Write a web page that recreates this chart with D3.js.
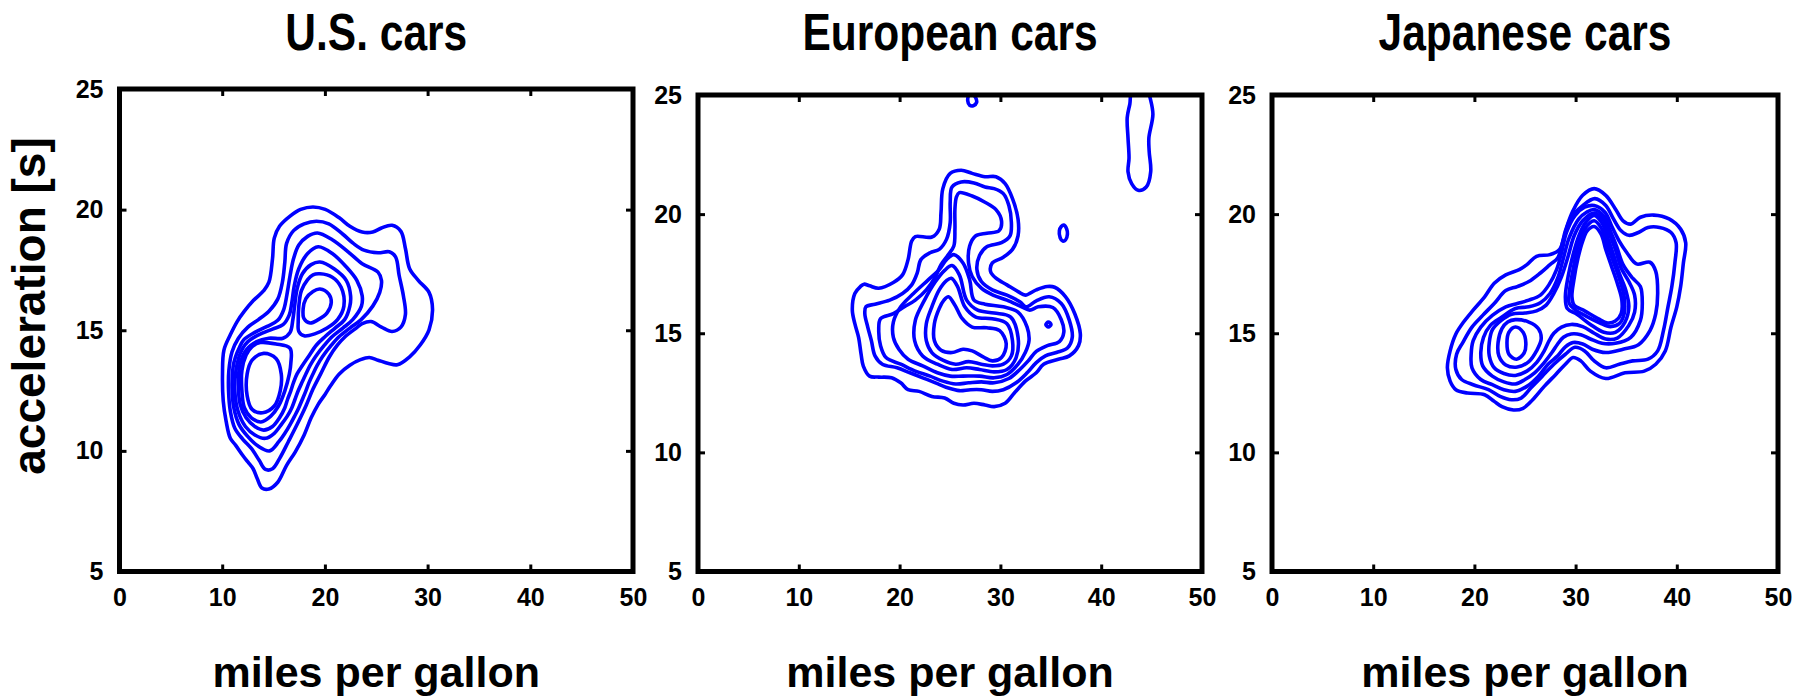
<!DOCTYPE html>
<html>
<head>
<meta charset="utf-8">
<script src="https://cdn.jsdelivr.net/npm/d3@7"></script>
<style>
  body { margin: 0; background: #fff; }
  text { font-family: "Liberation Sans", Arial, sans-serif; font-weight: bold; fill: #000; }
</style>
</head>
<body>
<div id="chart"></div>
<script>
/* DATA */
const titles = ["U.S. cars", "European cars", "Japanese cars"];
const xTicks = [0, 10, 20, 30, 40, 50];
const yTicks = [5, 10, 15, 20, 25];

// contour rings as [mpg, acceleration] points, outermost first
const usRings = [
  [[18.84,20.11],[20.03,20.01],[21.40,19.66],[22.43,19.31],[23.63,19.07],[24.66,19.07],[25.51,19.24],[26.54,19.35],[27.40,19.10],[27.84,18.39],[28.25,17.55],[29.11,17.06],[30.14,16.57],[30.48,15.86],[30.14,15.02],[29.28,14.39],[28.25,13.90],[27.05,13.57],[26.20,13.62],[25.17,13.76],[24.32,13.87],[23.46,13.78],[22.43,13.55],[21.40,13.19],[20.55,12.70],[20.03,12.35],[19.35,11.93],[18.66,11.37],[17.98,10.66],[17.12,9.96],[16.27,9.40],[15.41,8.70],[14.55,8.42],[13.87,8.46],[13.42,8.84],[13.01,9.26],[12.50,9.54],[11.99,9.82],[11.30,10.24],[10.79,10.52],[10.38,11.23],[10.10,12.07],[10.03,13.19],[10.17,14.18],[10.79,14.81],[11.47,15.37],[12.16,15.79],[13.01,16.22],[14.04,16.64],[14.55,16.99],[14.90,17.97],[15.07,18.82],[15.58,19.31],[16.61,19.73],[17.64,20.01]],
  [[19.18,19.52],[20.38,19.41],[21.75,18.98],[22.77,18.60],[23.80,18.32],[25.17,18.21],[26.27,18.25],[26.88,18.04],[27.23,17.27],[27.64,16.43],[27.84,15.65],[27.40,15.13],[26.54,14.95],[25.51,15.13],[24.49,15.36],[23.63,15.27],[23.05,15.09],[21.99,14.74],[21.23,14.39],[20.44,13.90],[19.59,13.19],[18.84,12.56],[18.15,11.86],[17.29,11.09],[16.44,10.38],[15.58,9.68],[14.90,9.26],[14.21,9.23],[13.60,9.61],[12.84,10.10],[11.99,10.49],[11.23,10.94],[10.79,11.65],[10.62,12.49],[10.65,13.33],[10.96,14.11],[11.58,14.67],[12.50,15.13],[13.53,15.44],[14.55,15.79],[15.41,16.29],[15.86,16.99],[16.10,17.83],[16.27,18.60],[16.95,19.13],[17.98,19.41]],
  [[19.28,19.03],[20.72,18.75],[22.26,18.25],[23.63,17.76],[25.17,17.41],[25.51,17.06],[25.34,16.57],[24.66,16.00],[23.53,15.44],[22.43,15.09],[21.40,14.74],[20.65,14.39],[19.76,13.90],[19.25,13.54],[18.84,13.19],[18.46,12.84],[18.15,12.49],[17.81,12.14],[17.46,11.79],[17.05,11.44],[16.61,11.09],[16.10,10.73],[15.51,10.38],[14.62,10.00],[13.46,10.21],[12.50,10.59],[11.64,11.09],[11.13,11.79],[10.96,12.63],[11.06,13.48],[11.30,13.90],[11.64,14.25],[12.09,14.60],[13.18,14.91],[14.38,15.16],[15.41,15.41],[15.99,15.86],[16.34,16.57],[16.61,17.27],[16.95,17.97],[17.46,18.53],[18.32,18.89]],
  [[19.35,18.46],[20.72,18.18],[22.09,17.62],[23.12,17.06],[23.63,16.43],[23.56,16.00],[22.71,15.44],[21.75,15.09],[20.72,14.74],[19.97,14.39],[19.08,13.90],[18.56,13.54],[18.15,13.19],[17.77,12.84],[17.40,12.49],[17.09,12.14],[16.78,11.79],[16.34,11.44],[15.75,11.09],[15.07,10.73],[14.21,10.52],[13.18,10.66],[12.26,11.01],[11.54,11.65],[11.23,12.49],[11.34,13.33],[11.64,13.90],[11.99,14.25],[12.50,14.53],[13.53,14.81],[14.90,15.05],[15.92,15.23],[16.54,15.65],[16.78,16.15],[17.02,16.85],[17.46,17.55],[18.32,18.18]],
  [[19.52,17.83],[20.89,17.55],[22.09,17.06],[22.50,16.43],[22.43,16.00],[21.92,15.44],[20.99,15.09],[20.03,14.74],[19.18,14.39],[18.39,13.90],[17.81,13.54],[17.29,13.19],[16.95,12.84],[16.68,12.49],[16.37,12.14],[16.10,11.79],[15.58,11.37],[14.90,11.01],[14.04,10.86],[13.18,11.01],[12.33,11.37],[11.75,11.93],[11.58,12.77],[11.75,13.62],[12.33,14.18],[13.36,14.53],[14.55,14.67],[15.92,14.67],[16.61,14.91],[16.88,15.44],[17.05,16.00],[17.29,16.71],[17.81,17.34],[18.66,17.72]],
  [[19.52,17.34],[20.72,17.20],[21.58,16.78],[21.85,16.00],[21.23,15.44],[20.21,15.09],[19.01,14.85],[17.98,14.77],[17.46,14.95],[17.40,15.37],[17.46,16.00],[17.71,16.64],[18.32,17.10],[18.84,17.30]],
  [[13.70,14.49],[15.24,14.43],[16.61,14.25],[16.68,13.62],[16.54,13.19],[16.10,12.49],[15.48,11.86],[14.73,11.44],[13.77,11.20],[12.84,11.37],[12.16,11.79],[11.92,12.49],[11.92,13.33],[12.33,13.97],[12.91,14.32]],
  [[19.52,16.71],[20.38,16.50],[20.62,16.15],[20.21,15.72],[19.35,15.44],[18.56,15.30],[17.98,15.47],[17.88,15.89],[18.15,16.31],[18.84,16.61]],
  [[14.04,14.04],[15.24,13.83],[15.75,13.19],[15.65,12.49],[15.07,11.86],[13.94,11.58],[12.91,11.72],[12.43,12.28],[12.43,13.19],[12.91,13.76]]
];

const euRings = [
  [[16.47,17.06],[17.02,16.99],[17.93,16.89],[19.38,17.13],[20.29,17.45],[20.84,18.09],[21.20,18.87],[21.56,19.06],[23.20,19.04],[23.93,19.37],[24.11,20.08],[24.29,21.07],[25.02,21.71],[26.11,21.84],[27.20,21.71],[28.47,21.57],[29.56,21.57],[30.47,21.28],[31.20,20.65],[31.75,19.79],[31.75,19.09],[31.20,18.52],[30.29,18.19],[29.20,17.95],[29.02,17.60],[29.56,17.31],[30.65,17.03],[31.75,16.75],[32.47,16.60],[33.56,16.82],[34.65,16.96],[35.38,16.93],[36.47,16.53],[37.38,15.82],[37.93,14.97],[37.75,14.48],[36.84,14.05],[35.75,13.91],[34.29,13.70],[33.56,13.34],[32.47,12.99],[31.38,12.49],[30.47,12.06],[29.38,11.92],[28.47,11.99],[27.38,12.06],[26.29,11.99],[25.38,12.06],[24.47,12.28],[23.20,12.35],[21.93,12.56],[20.84,12.63],[20.11,12.92],[19.20,13.13],[17.93,13.16],[17.02,13.20],[16.40,13.62],[16.18,14.12],[15.93,14.83],[15.56,15.40],[15.31,15.97],[15.56,16.67],[16.11,16.96]],
  [[16.66,16.11],[17.56,16.22],[19.02,16.39],[20.29,16.67],[21.20,17.03],[21.75,17.53],[22.11,18.09],[23.02,18.38],[23.93,18.52],[24.65,18.94],[25.02,19.65],[25.02,20.50],[25.20,21.14],[26.11,21.35],[27.38,21.31],[28.47,21.14],[29.38,21.07],[30.29,20.86],[30.84,20.36],[31.09,19.65],[30.95,19.09],[30.11,18.80],[28.65,18.63],[27.93,18.26],[27.67,17.67],[28.11,17.17],[29.20,16.82],[30.65,16.60],[31.93,16.32],[32.54,16.11],[33.56,16.36],[34.84,16.53],[36.04,16.25],[36.84,15.54],[37.13,14.83],[36.65,14.38],[35.56,14.19],[34.47,14.05],[33.56,13.77],[32.65,13.34],[31.56,12.92],[30.29,12.63],[29.20,12.56],[28.11,12.63],[27.02,12.63],[25.93,12.59],[24.84,12.70],[23.56,12.92],[22.29,13.13],[21.02,13.34],[19.75,13.55],[18.29,13.70],[17.56,14.05],[17.20,14.69],[16.84,15.26],[16.55,15.82]],
  [[25.93,20.90],[27.20,20.76],[28.47,20.50],[29.56,20.19],[30.11,19.72],[29.86,19.30],[28.65,19.20],[27.56,19.09],[26.95,18.66],[26.84,17.95],[27.20,17.38],[28.11,16.89],[29.27,16.60],[30.65,16.39],[32.11,16.11],[32.91,15.97],[33.75,16.11],[35.20,16.08],[36.04,15.57],[36.29,15.04],[35.85,14.65],[34.65,14.48],[33.56,14.24],[32.76,13.84],[31.93,13.48],[30.84,13.10],[29.38,12.92],[28.11,12.96],[26.84,12.92],[25.56,12.87],[24.29,12.99],[23.02,13.20],[21.56,13.41],[20.11,13.70],[18.65,13.98],[18.11,14.48],[17.93,15.11],[18.11,15.61],[19.38,15.82],[20.47,16.11],[21.56,16.39],[22.65,16.82],[23.56,17.38],[24.11,17.88],[24.84,18.30],[25.38,18.66],[25.49,19.37],[25.49,20.22],[25.64,20.72]],
  [[25.38,18.30],[26.29,17.95],[26.95,17.24],[27.38,16.39],[28.47,16.22],[30.29,16.11],[31.75,15.89],[32.65,15.26],[32.84,14.69],[32.47,14.19],[31.75,13.70],[30.65,13.27],[29.38,13.13],[27.93,13.20],[26.29,13.20],[25.02,13.20],[23.75,13.34],[22.29,13.63],[20.84,13.91],[19.93,14.33],[19.38,14.83],[19.38,15.47],[20.11,16.11],[21.38,16.67],[22.84,17.24],[23.93,17.67],[24.65,18.09]],
  [[25.20,17.84],[25.93,17.45],[26.65,16.39],[27.75,15.97],[29.38,15.85],[31.02,15.68],[31.75,14.83],[31.56,13.98],[30.65,13.48],[29.38,13.38],[27.93,13.48],[26.65,13.55],[25.20,13.48],[23.75,13.70],[22.29,14.05],[21.49,14.69],[21.56,15.54],[22.47,16.39],[23.56,17.17],[24.47,17.64]],
  [[25.13,17.31],[25.75,16.96],[26.47,16.11],[27.56,15.68],[29.20,15.61],[30.65,15.40],[31.20,14.69],[31.09,14.05],[30.29,13.70],[29.20,13.63],[28.11,13.70],[26.84,13.81],[25.56,13.70],[24.29,13.87],[23.20,14.19],[22.65,14.69],[22.65,15.40],[23.20,16.11],[23.93,16.82],[24.65,17.21]],
  [[24.84,16.53],[25.49,16.18],[26.22,15.61],[27.20,15.26],[28.65,15.23],[29.93,15.11],[30.58,14.55],[30.11,13.98],[29.20,13.84],[28.29,14.01],[27.20,14.26],[26.29,14.33],[25.20,14.19],[24.11,14.29],[23.45,14.69],[23.45,15.40],[23.93,16.04],[24.40,16.39]],
  [[34.76,15.47],[35.02,15.37],[34.76,15.26],[34.51,15.37]],
  [[36.29,19.54],[36.58,19.37],[36.65,19.16],[36.47,18.92],[36.18,18.87],[35.93,19.01],[35.85,19.30],[36.04,19.48]],
  [[27.20,25.05],[27.56,24.87],[27.64,24.69],[27.31,24.55],[26.95,24.57],[26.76,24.76],[26.87,24.98]],
  [[43.09,25.18],[42.84,24.62],[42.58,24.05],[42.66,23.20],[42.76,22.35],[42.66,21.78],[43.02,21.28],[43.67,21.00],[44.47,21.14],[44.91,21.78],[44.76,22.63],[44.73,23.20],[45.13,24.19],[44.84,24.90],[44.65,25.18]]
];

const jpRings = [
  [[31.84,21.07],[32.98,20.79],[33.93,20.22],[34.69,19.72],[35.45,19.58],[36.40,19.87],[37.73,19.96],[39.24,19.80],[40.38,19.37],[40.88,18.80],[40.65,17.95],[40.38,16.96],[40.00,16.11],[39.43,15.26],[38.86,14.26],[37.92,13.70],[36.78,13.41],[34.88,13.34],[32.98,13.10],[31.46,13.41],[30.51,13.84],[29.75,13.98],[28.99,13.70],[28.04,13.27],[26.90,12.77],[25.76,12.21],[24.81,11.85],[23.86,11.78],[22.72,11.92],[21.96,12.14],[21.01,12.42],[19.31,12.49],[18.17,12.63],[17.60,12.99],[17.33,13.55],[17.60,14.26],[18.17,14.97],[18.93,15.47],[19.88,15.97],[21.01,16.53],[21.96,17.10],[23.10,17.45],[24.43,17.67],[25.19,17.88],[26.14,18.23],[27.47,18.30],[28.42,18.52],[28.99,19.30],[29.75,20.15],[30.70,20.79]],
  [[31.91,20.65],[32.98,20.36],[33.74,19.80],[34.50,19.30],[35.26,19.11],[36.21,19.23],[37.15,19.44],[38.30,19.44],[39.43,19.23],[39.93,18.80],[39.81,17.95],[39.51,16.96],[39.13,16.11],[38.68,15.11],[38.11,14.26],[37.15,13.91],[35.64,13.84],[34.31,13.70],[32.98,13.55],[31.84,13.84],[30.89,14.26],[29.94,14.41],[28.99,14.12],[27.85,13.70],[26.71,13.20],[25.57,12.70],[24.62,12.28],[23.67,12.21],[22.53,12.35],[21.39,12.63],[19.88,12.84],[18.74,13.06],[18.17,13.48],[18.24,14.12],[18.85,14.61],[19.76,15.26],[20.82,15.75],[21.96,16.25],[23.10,16.79],[24.24,16.96],[25.38,17.17],[26.52,17.53],[27.47,17.88],[28.23,18.16],[28.80,18.94],[29.48,19.80],[30.70,20.36]],
  [[31.84,20.36],[32.90,20.08],[33.55,19.51],[34.31,18.87],[35.07,18.38],[36.02,17.91],[37.35,17.98],[37.92,17.60],[38.11,16.67],[37.92,15.82],[37.35,15.11],[36.21,14.52],[34.69,14.33],[32.98,14.19],[31.65,14.33],[30.70,14.55],[29.75,14.61],[28.99,14.43],[28.23,14.05],[27.28,13.70],[26.33,13.20],[25.19,12.77],[24.05,12.56],[22.91,12.63],[21.77,12.84],[20.63,13.06],[19.76,13.55],[19.68,14.12],[19.88,14.69],[20.63,15.26],[21.77,15.75],[23.10,16.11],[24.24,16.25],[25.38,16.39],[26.52,16.60],[27.36,17.03],[28.12,17.67],[28.61,18.38],[29.10,19.23],[29.94,19.94],[30.89,20.29]],
  [[31.84,20.19],[32.79,19.91],[33.36,19.37],[34.04,18.66],[34.69,17.88],[35.64,17.31],[36.40,16.96],[36.59,16.25],[36.40,15.54],[35.45,14.83],[33.93,14.58],[32.60,14.58],[31.46,14.76],[30.51,14.94],[29.56,14.97],[28.80,14.83],[28.23,14.55],[27.66,14.19],[26.90,13.77],[25.95,13.34],[25.00,13.06],[24.05,12.87],[22.91,12.96],[21.77,13.20],[20.82,13.63],[20.63,14.19],[20.90,14.83],[21.58,15.33],[22.72,15.68],[24.05,16.04],[25.38,16.11],[26.52,16.28],[27.47,16.67],[28.23,17.31],[28.80,18.16],[29.37,19.01],[30.32,19.80],[31.08,20.08]],
  [[31.84,20.05],[32.79,19.72],[33.28,19.23],[33.93,18.52],[34.50,17.74],[35.26,17.17],[35.83,16.60],[35.83,15.89],[35.26,15.33],[34.12,14.80],[32.98,14.76],[31.84,15.00],[30.70,15.28],[29.56,15.37],[28.61,15.26],[27.85,15.00],[27.39,14.69],[26.90,14.26],[26.14,13.77],[25.19,13.41],[24.05,13.23],[22.91,13.31],[21.96,13.55],[21.47,14.05],[21.47,14.61],[21.77,15.14],[22.65,15.54],[23.67,15.80],[25.00,15.85],[26.14,15.94],[27.09,16.18],[27.85,16.67],[28.61,17.38],[29.26,18.23],[29.86,19.09],[30.70,19.72]],
  [[31.84,19.94],[32.67,19.58],[33.17,19.01],[33.74,18.30],[34.31,17.53],[34.95,16.82],[35.26,16.11],[34.88,15.47],[33.93,15.04],[32.79,15.04],[31.46,15.37],[30.13,15.80],[29.18,16.04],[28.99,16.53],[29.26,17.38],[29.75,18.30],[30.32,19.09],[31.00,19.65]],
  [[24.05,15.57],[25.38,15.47],[26.33,15.19],[26.60,14.76],[26.14,14.26],[25.38,13.81],[24.24,13.58],[23.10,13.67],[22.42,14.05],[22.34,14.61],[22.72,15.19],[23.29,15.47]],
  [[31.84,19.72],[32.60,19.37],[33.05,18.80],[33.66,18.09],[34.31,17.31],[34.80,16.53],[34.80,15.82],[34.31,15.40],[33.43,15.28],[32.41,15.43],[31.08,15.71],[29.94,15.99],[29.37,16.25],[29.41,16.82],[29.75,17.67],[30.24,18.66],[30.89,19.37]],
  [[24.05,15.26],[24.81,15.04],[25.08,14.61],[24.93,14.19],[24.17,13.91],[23.41,14.12],[23.22,14.61],[23.41,15.04]],
  [[31.84,19.48],[32.52,19.16],[32.98,18.52],[33.55,17.81],[34.12,17.10],[34.57,16.39],[34.50,15.82],[33.93,15.51],[33.17,15.43],[32.22,15.61],[30.89,15.94],[29.86,16.18],[29.64,16.53],[29.83,17.24],[30.24,18.16],[30.70,18.87],[31.15,19.30]]
];

/* LAYOUT */
const width = 1811, height = 698;
const panels = [
  { title: titles[0], rings: usRings, left: 119.5, right: 633, top: 89, bottom: 571.5 },
  { title: titles[1], rings: euRings, left: 698, right: 1202, top: 95, bottom: 571.5 },
  { title: titles[2], rings: jpRings, left: 1272, right: 1778, top: 95, bottom: 571.5 }
];

const svg = d3.select("#chart")
  .append("svg")
  .attr("width", width)
  .attr("height", height);

panels.forEach((p, i) => {
  const x = d3.scaleLinear().domain([0, 50]).range([p.left, p.right]);
  const y = d3.scaleLinear().domain([5, 25]).range([p.bottom, p.top]);
  const cx = (p.left + p.right) / 2;

  svg.append("clipPath")
    .attr("id", "clip" + i)
    .append("rect")
    .attr("x", p.left).attr("y", p.top)
    .attr("width", p.right - p.left).attr("height", p.bottom - p.top);

  const line = d3.line()
    .x(d => x(d[0]))
    .y(d => y(d[1]))
    .curve(d3.curveCatmullRomClosed.alpha(0.5));

  svg.append("g")
    .attr("clip-path", `url(#clip${i})`)
    .selectAll("path")
    .data(p.rings)
    .join("path")
    .attr("d", line)
    .attr("fill", "none")
    .attr("stroke", "#0000ff")
    .attr("stroke-width", 3.6)
    .attr("stroke-linejoin", "round");

  // axes: inward ticks on all four sides
  const axes = [
    { axis: d3.axisBottom(x).tickValues(xTicks).tickPadding(17), t: `translate(0,${p.bottom})` },
    { axis: d3.axisLeft(y).tickValues(yTicks).tickPadding(16), t: `translate(${p.left},0)` },
    { axis: d3.axisTop(x).tickValues(xTicks).tickFormat(""), t: `translate(0,${p.top})` },
    { axis: d3.axisRight(y).tickValues(yTicks).tickFormat(""), t: `translate(${p.right},0)` }
  ];
  axes.forEach(a => {
    const g = svg.append("g")
      .attr("transform", a.t)
      .call(a.axis.tickSizeInner(-7).tickSizeOuter(0));
    g.select(".domain").remove();
    g.selectAll("line").attr("stroke", "#000").attr("stroke-width", 3);
    g.selectAll("text")
      .attr("font-family", "Liberation Sans, Arial, sans-serif")
      .attr("font-weight", "bold")
      .attr("font-size", 25)
      .attr("fill", "#000");
  });

  svg.append("rect")
    .attr("x", p.left).attr("y", p.top)
    .attr("width", p.right - p.left).attr("height", p.bottom - p.top)
    .attr("fill", "none")
    .attr("stroke", "#000")
    .attr("stroke-width", 5);

  svg.append("text")
    .attr("transform", `translate(${cx},50) scale(1,1.2)`)
    .attr("text-anchor", "middle")
    .attr("font-size", 42.5)
    .text(p.title);

  svg.append("text")
    .attr("x", cx)
    .attr("y", 687)
    .attr("text-anchor", "middle")
    .attr("font-size", 43)
    .text("miles per gallon");
});

svg.append("text")
  .attr("transform", "translate(45,306) rotate(-90)")
  .attr("text-anchor", "middle")
  .attr("font-size", 46)
  .text("acceleration [s]");
</script>
</body>
</html>
